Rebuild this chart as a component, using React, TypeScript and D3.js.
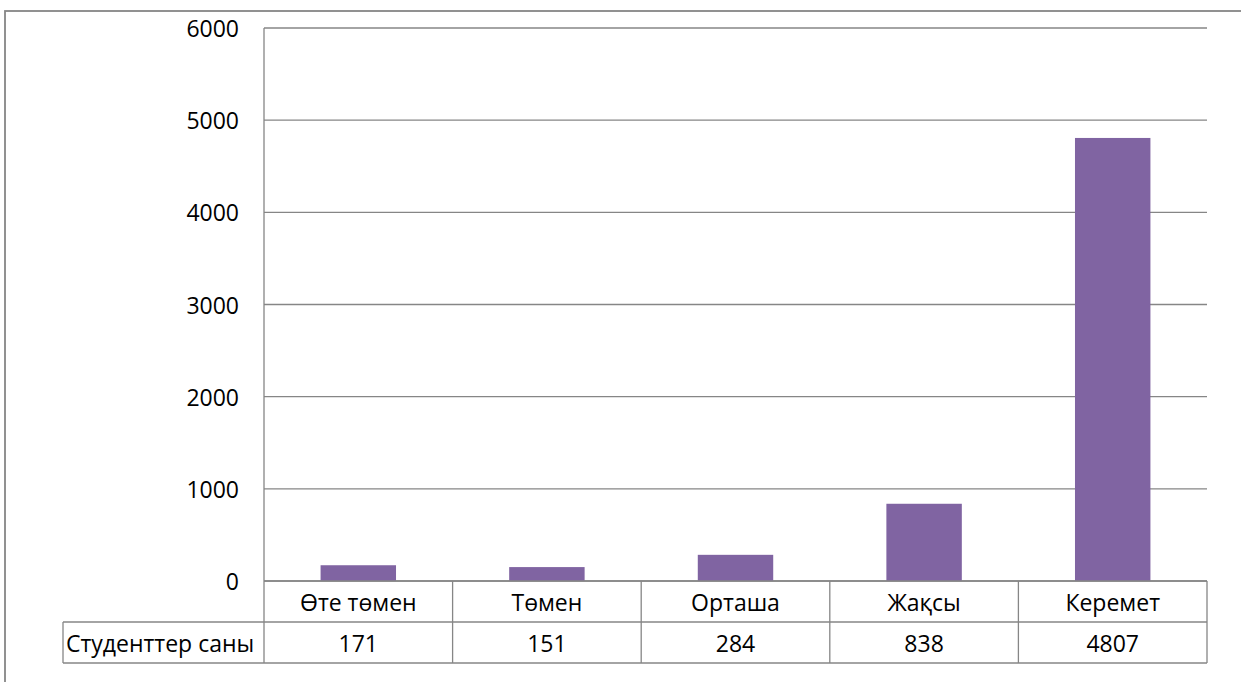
import React from 'react';
import * as d3 from 'd3';

const categories = ['Өте төмен', 'Төмен', 'Орташа', 'Жақсы', 'Керемет'];
const values = [171, 151, 284, 838, 4807];
const seriesName = 'Студенттер саны';
const yTicks = [0, 1000, 2000, 3000, 4000, 5000, 6000];

const WIDTH = 1241;
const HEIGHT = 682;
const BAR_COLOR = '#8064A2';
const LINE = '#868686';
const FONT = '"Open Sans", "Noto Sans", sans-serif';
const FS = 23;

const App: React.FC = () => {
  const left = 264;
  const right = 1207;
  const top = 28;
  const bottom = 581;
  const rowH = 41;
  const tableLeft = 63;

  const x = d3.scaleBand<string>().domain(categories).range([left, right]).paddingInner(0.6).paddingOuter(0.3);
  const band = d3.scaleBand<string>().domain(categories).range([left, right]);
  const y = d3.scaleLinear().domain([0, 6000]).range([bottom, top]);

  return (
    <svg
      width={WIDTH}
      height={HEIGHT}
      style={{ position: 'absolute', left: 0, top: 0, background: '#fff' }}
      fontFamily={FONT}
    >
      {/* outer chart border, runs off the right and bottom edges */}
      <rect x={5} y={11} width={WIDTH + 20} height={HEIGHT + 20} fill="none" stroke={LINE} strokeWidth={1.8} />

      {/* gridlines */}
      {yTicks.map((t) => (
        <line key={t} x1={left} x2={right} y1={y(t)} y2={y(t)} stroke={LINE} strokeWidth={1.3} />
      ))}

      {/* y tick labels */}
      {yTicks.map((t) => (
        <text key={`l${t}`} x={239} y={y(t)} textAnchor="end" dominantBaseline="central" fontSize={FS} fill="#000">
          {t}
        </text>
      ))}

      {/* bars */}
      {categories.map((c, i) => (
        <rect
          key={c}
          x={x(c)!}
          y={y(values[i])}
          width={x.bandwidth()}
          height={bottom - y(values[i])}
          fill={BAR_COLOR}
        />
      ))}

      {/* data table */}
      <line x1={left} x2={left} y1={top} y2={bottom + rowH * 2} stroke={LINE} strokeWidth={1.3} />
      <line x1={right} x2={right} y1={bottom} y2={bottom + rowH * 2} stroke={LINE} strokeWidth={1.3} />
      <line x1={left} x2={right} y1={bottom} y2={bottom} stroke={LINE} strokeWidth={1.3} />
      <line x1={tableLeft} x2={right} y1={bottom + rowH} y2={bottom + rowH} stroke={LINE} strokeWidth={1.3} />
      <line x1={tableLeft} x2={right} y1={bottom + rowH * 2} y2={bottom + rowH * 2} stroke={LINE} strokeWidth={1.3} />
      <line x1={tableLeft} x2={tableLeft} y1={bottom + rowH} y2={bottom + rowH * 2} stroke={LINE} strokeWidth={1.3} />
      {categories.slice(1).map((c) => (
        <line key={`d${c}`} x1={band(c)!} x2={band(c)!} y1={bottom} y2={bottom + rowH * 2} stroke={LINE} strokeWidth={1.3} />
      ))}
      {categories.map((c, i) => (
        <g key={`t${c}`}>
          <text
            x={band(c)! + band.bandwidth() / 2}
            y={bottom + rowH / 2}
            textAnchor="middle"
            dominantBaseline="central"
            fontSize={FS}
            fill="#000"
          >
            {c}
          </text>
          <text
            x={band(c)! + band.bandwidth() / 2}
            y={bottom + rowH * 1.5}
            textAnchor="middle"
            dominantBaseline="central"
            fontSize={FS}
            fill="#000"
          >
            {values[i]}
          </text>
        </g>
      ))}
      <text x={tableLeft + 3} y={bottom + rowH * 1.5} dominantBaseline="central" fontSize={FS} fill="#000">
        {seriesName}
      </text>
    </svg>
  );
};

export default App;
